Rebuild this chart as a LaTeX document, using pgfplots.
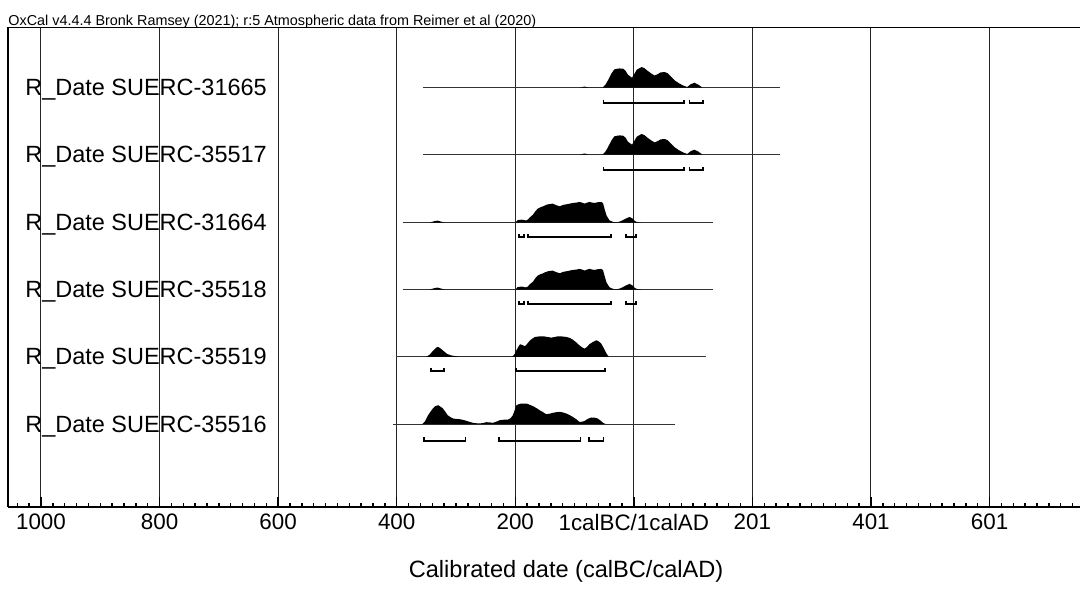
\documentclass[border=0pt]{standalone}
\usepackage{fontspec}
\setmainfont{Liberation Sans}
\usepackage{pgfplots}
\usepackage{pgfplotstable}
\pgfplotsset{compat=1.18}
\usetikzlibrary{calc}

\tikzset{
    rowline/.style={black!80, line width=0.5pt},
    hpd/.style={black, line width=0.9pt},
    rowlab/.style={anchor=base west, inner sep=0pt, font=\fontsize{11.75}{14}\selectfont},
}

% probability curves: x = year (BC negative), h = height above the row line
\pgfplotstableread{
x h
-92 0
-83 1.2
-75 0
-53 0
-48 3
-44 7
-38 14
-33 18.3
-28 19
-24 19.3
-18 19
-14 17
-10 13
-3 10
1 14
5 18
13 20.7
18 19.5
23 17
30 14
35 12.3
40 13.5
45 15.3
52 15.7
57 14.5
62 11.5
69 7.3
76 4.5
83 2.3
90 0.7
96 3.5
102 5
109 3
116 0
}\shapeA

\pgfplotstableread{
x h
-345 0
-336 1.5
-331 2
-325 1
-318 0
-200 0
-196 2.5
-189 3
-182 2.2
-179 3
-175 5.5
-170 8
-166 11.5
-162 14
-157 15.5
-153 16.3
-149 17.5
-145 18.3
-137 19
-131 17.5
-125 16.3
-119 17.8
-114 18.3
-108 19
-103 19.7
-97 20
-92 20.7
-87 20
-83 19
-79 20
-75 20.7
-70 20
-66 19.7
-60 20.5
-55 20.7
-52 19.5
-49 13
-46 7
-41 2.3
-35 0.7
-30 0.3
-24 1
-19 2.3
-12 4.5
-7 5.7
-2 4
2 1.5
6 0.5
13 0
}\shapeB

\pgfplotstableread{
x h
-350 0
-344 2.5
-339 6
-333 9.5
-330 10
-326 8.5
-321 6
-315 3
-308 1.5
-300 0.7
-294 0
-205 0
-201 3
-198 6.7
-195 10
-192 12.7
-188 12
-184 10.7
-180 13
-176 16
-172 18
-167 20
-160 20.5
-153 20.7
-146 20
-139 19.3
-133 20
-128 20.7
-121 20.5
-114 20
-108 19
-103 17.3
-97 14.5
-92 11.7
-87 9.5
-83 8.3
-79 10
-75 12.7
-69 15
-63 16.7
-59 15.5
-55 13.3
-50 8
-46 3.3
-42 0
}\shapeC

\pgfplotstableread{
x h
-357 0
-352 3
-347 9
-343 12.5
-339 15.7
-335 18
-330 19
-326 17.5
-322 15.7
-318 12.5
-314 9
-309 7
-305 5.7
-300 5.3
-294 5
-288 4.3
-282 3.3
-277 2.3
-271 1.3
-265 0.9
-260 0.7
-254 1.2
-249 2
-243 1.8
-238 1.3
-232 2.5
-226 4
-219 4.5
-212 4.7
-208 6
-204 9
-201 14
-198 19
-194 20
-190 20.7
-185 20.7
-181 20.7
-176 19.5
-170 18
-164 16
-159 14
-153 12
-148 10
-142 10.5
-137 11.3
-131 12
-125 12.3
-120 11.8
-114 10.7
-108 9
-103 7.3
-97 5
-92 2.3
-87 2.5
-83 3.3
-77 5.5
-72 6.7
-66 6.5
-61 5.7
-56 3.5
-52 1.3
-47 0
}\shapeD

\begin{document}
\begin{tikzpicture}
\begin{axis}[
    name=ax,
    scale only axis,
    width=536.5pt, height=240pt,
    xmin=-1055.6, xmax=752.9,
    ymin=0, ymax=480,
    axis x line=box, axis y line=left,
    axis line style={-, line width=0.8pt},
    ytick=\empty,
    xtick={-1000,-800,-600,-400,-200,0,200,400,600},
    xticklabels={1000,800,600,400,200,1calBC/1calAD,201,401,601},
    minor xtick={-1040,-1020,...,740},
    xtick pos=bottom, xtick align=inside,
    major tick length=5pt, minor tick length=2pt,
    every tick/.style={black, line width=0.7pt},
    xmajorgrids,
    grid style={black!85, line width=0.5pt},
    tick label style={font=\fontsize{11.2}{13}\selectfont},
    /pgf/number format/assume math mode=true,
    xlabel={Calibrated date (calBC/calAD)},
    xlabel style={at={(axis description cs:0.5205,0)}, anchor=base, yshift=-35pt,
                  font=\fontsize{11.8}{14}\selectfont},
    clip=false,
]
% row 1
\addplot[rowline] coordinates {(-356,419.7) (246,419.7)};
\addplot[fill=black, draw=none] table[x=x, y expr=\thisrow{h}+419.7] {\shapeA};
\addplot[hpd] coordinates {(-51,407.8) (-51,404.3) (84,404.3) (84,407.8)};
\addplot[hpd] coordinates {(94,407.8) (94,404.3) (116,404.3) (116,407.8)};
\node[rowlab] at (axis cs:-1027,411.7) {R\_Date SUERC-31665};
% row 2
\addplot[rowline] coordinates {(-356,352.7) (246,352.7)};
\addplot[fill=black, draw=none] table[x=x, y expr=\thisrow{h}+352.7] {\shapeA};
\addplot[hpd] coordinates {(-51,340.5) (-51,337) (84,337) (84,340.5)};
\addplot[hpd] coordinates {(94,340.5) (94,337) (116,337) (116,340.5)};
\node[rowlab] at (axis cs:-1027,344.7) {R\_Date SUERC-35517};
% row 3
\addplot[rowline] coordinates {(-390,284.7) (134,284.7)};
\addplot[fill=black, draw=none] table[x=x, y expr=\thisrow{h}+284.7] {\shapeB};
\addplot[hpd] coordinates {(-194,273.8) (-194,270.3) (-185,270.3) (-185,273.8)};
\addplot[hpd] coordinates {(-178,273.8) (-178,270.3) (-38,270.3) (-38,273.8)};
\addplot[hpd] coordinates {(-13,273.8) (-13,270.3) (3,270.3) (3,273.8)};
\node[rowlab] at (axis cs:-1027,276.7) {R\_Date SUERC-31664};
% row 4
\addplot[rowline] coordinates {(-390,217.7) (134,217.7)};
\addplot[fill=black, draw=none] table[x=x, y expr=\thisrow{h}+217.7] {\shapeB};
\addplot[hpd] coordinates {(-194,206.5) (-194,203) (-185,203) (-185,206.5)};
\addplot[hpd] coordinates {(-178,206.5) (-178,203) (-38,203) (-38,206.5)};
\addplot[hpd] coordinates {(-13,206.5) (-13,203) (3,203) (3,206.5)};
\node[rowlab] at (axis cs:-1027,209.7) {R\_Date SUERC-35518};
% row 5
\addplot[rowline] coordinates {(-401,150.3) (121,150.3)};
\addplot[fill=black, draw=none] table[x=x, y expr=\thisrow{h}+150.3] {\shapeC};
\addplot[hpd] coordinates {(-342,139.5) (-342,136) (-320,136) (-320,139.5)};
\addplot[hpd] coordinates {(-199,139.5) (-199,136) (-48,136) (-48,139.5)};
\node[rowlab] at (axis cs:-1027,142.3) {R\_Date SUERC-35519};
% row 6
\addplot[rowline] coordinates {(-406,83) (70,83)};
\addplot[fill=black, draw=none] table[x=x, y expr=\thisrow{h}+83] {\shapeD};
\addplot[hpd] coordinates {(-354,69.8) (-354,66.3) (-284,66.3) (-284,69.8)};
\addplot[hpd] coordinates {(-228,69.8) (-228,66.3) (-90,66.3) (-90,69.8)};
\addplot[hpd] coordinates {(-76,69.8) (-76,66.3) (-51,66.3) (-51,69.8)};
\node[rowlab] at (axis cs:-1027,75) {R\_Date SUERC-35516};
\end{axis}
\node[anchor=base west, inner sep=0pt, font=\fontsize{7.2}{8}\selectfont]
  at ($(ax.north west)+(0,1.2pt)$)
  {OxCal v4.4.4 Bronk Ramsey (2021); r:5 Atmospheric data from Reimer et al (2020)};
\path ($(ax.south west)+(-4pt,-37pt)$) rectangle ($(ax.north east)+(0,13.75pt)$);
\end{tikzpicture}
\end{document}
